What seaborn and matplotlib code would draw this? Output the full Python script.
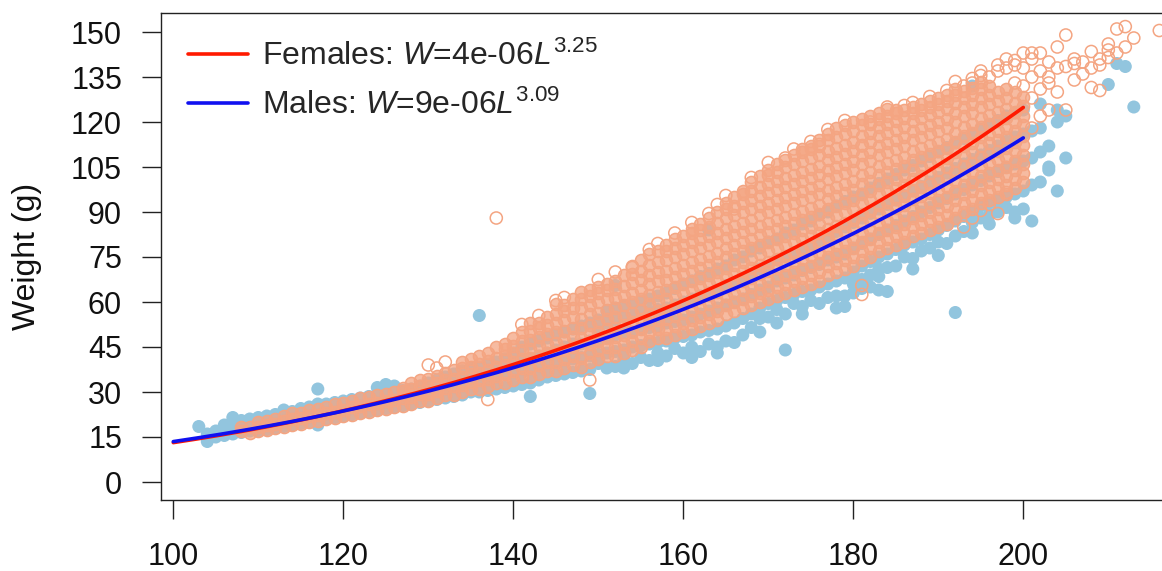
import numpy as np
import pandas as pd
import matplotlib
matplotlib.use("Agg")
import matplotlib.pyplot as plt
import seaborn as sns

# ---------------------------------------------------------------
# Length (mm) and weight (g) records, grouped by length class
# ---------------------------------------------------------------
male_len = [103, 104, 105, 106, 107, 108, 109, 110, 111, 112, 113, 114,
            115, 116, 117, 118, 119, 120, 121, 122, 123, 124, 125, 126,
            127, 128, 129, 130, 131, 132, 133, 134, 135, 136, 137, 138,
            139, 140, 141, 142, 143, 144, 145, 146, 147, 148, 149, 150,
            151, 152, 153, 154, 155, 156, 157, 158, 159, 160, 161, 162,
            163, 164, 165, 166, 167, 168, 169, 170, 171, 172, 173, 174,
            175, 176, 177, 178, 179, 180, 181, 182, 183, 184, 185, 186,
            187, 188, 189, 190, 191, 192, 193, 194, 195, 196, 197, 198,
            199, 200, 201, 202, 203, 204, 205, 210, 211, 212, 213]
male_wt = [
    [18.5], [13.5, 16], [15, 17], [15.5, 17.5, 19], [16, 18, 21.5],
    [16.5, 18.5, 20.5], [17, 19, 21], [17, 19.5, 21.5], [17.5, 20, 22],
    [18, 20.5, 22.5], [18.5, 21, 24], [19, 21.5, 23.5], [19.5, 22, 24.5],
    [20, 22.5, 25], [19, 21, 23.5, 26, 31], [21, 23.5, 26], [21.5, 24, 26.5],
    [22, 24.5, 27], [22.5, 25, 27.5], [23, 25.5, 28], [23.5, 26, 28.5],
    [24, 26.5, 29, 31.5], [24.5, 27, 29.5, 32.5], [25, 27.5, 30, 32],
    [25.5, 28, 30.5], [26, 28.5, 31], [26.5, 29, 32], [27, 30, 33],
    [27.5, 30.5, 34], [28, 31, 35], [28.5, 32, 36], [29, 33, 37],
    [30, 34, 38], [30, 34, 38, 55.5], [30.5, 34.5, 39], [31, 35, 40],
    [31.5, 36, 41], [32, 36, 40, 43], [32.5, 36.5, 41, 45],
    [28.5, 33, 37, 41, 46], [34, 38, 42, 47], [35, 39, 43, 48],
    [35.5, 39.5, 44, 49], [36, 40, 45, 50], [36.5, 41, 46, 51],
    [37, 41.5, 46, 52], [29.5, 37.5, 42, 47, 53], [39.5, 42.5, 47, 51, 54],
    [38, 43, 48, 53, 57], [38.5, 43.5, 49, 54, 58, 65.5],
    [38, 41, 44, 50, 55, 58.5], [39.5, 45, 50, 55, 59],
    [41.5, 45.5, 51, 56, 60], [40.5, 46, 51.5, 57, 61],
    [40.5, 43, 46.5, 52, 57.5, 62], [42, 47, 53, 58, 63],
    [44.5, 48, 53.5, 59, 64.5], [43, 48.5, 54, 60, 66],
    [41.5, 45, 49, 55, 61, 67], [43.5, 50, 56, 62, 68.5],
    [46, 50.5, 57, 63, 69.5, 84], [43, 45, 51, 58, 64, 71],
    [47, 52, 59, 65.5, 72], [46.5, 53, 60, 66.5, 74],
    [49, 54.5, 61, 68, 75], [51.5, 56, 62.5, 69, 77],
    [50, 54.5, 58, 64, 71, 78], [55, 59.5, 65, 72, 80],
    [53, 57.5, 60.5, 67, 74, 81], [44, 56, 61.5, 68, 75, 83],
    [59.5, 62.5, 69, 76.5, 84], [56, 58.5, 63.5, 70.5, 78, 86],
    [60.5, 64, 71.5, 79, 87], [59.5, 65, 72.5, 80.5, 89],
    [61.5, 66, 74, 82, 90], [58, 62, 67, 75, 83.5, 92],
    [58.5, 62, 68, 76, 85, 93.5], [63, 66, 70, 78, 86.5, 95],
    [64.5, 67.5, 72, 79.5, 88, 96], [65, 69, 73.5, 81, 89.5, 98],
    [64, 68.5, 71, 75, 82.5, 91, 99.5], [63.5, 71.5, 76, 84, 92.5, 101],
    [72, 77.5, 85.5, 94, 102.5], [75, 79, 87, 95.5, 104],
    [71, 74.5, 80, 88.5, 97, 105.5], [77, 81, 90, 98.5, 107],
    [78, 82.5, 91.5, 100, 108.5], [75.5, 80, 84, 93, 101.5, 110],
    [79.5, 85.5, 94.5, 103, 111.5], [56.5, 82, 87, 96, 104.5, 113],
    [83.5, 88.5, 97.5, 106, 114.5], [83, 86.5, 90, 99, 107.5, 116, 132],
    [88, 92, 100.5, 109, 117.5], [86, 89, 93, 102, 110.5, 119],
    [90, 94, 103.5, 112, 120.5], [91.5, 95, 105, 113.5, 122],
    [88, 90, 96, 106, 115, 123], [91, 97, 107, 116, 124],
    [87, 99, 108, 117], [100, 110, 118, 126],
    [105, 112, 104], [97, 124, 120], [108, 122],
    [132.5], [139.5], [138.5], [125],
]

# Females: main body of the cloud
fem_len = [108, 109, 110, 111, 112, 113, 114, 115, 116, 117, 118, 119,
           120, 121, 122, 123, 124, 125, 126, 127, 128, 129, 130, 131,
           132, 133, 134, 135, 136, 137, 138, 139, 140, 141, 142, 143,
           144, 145, 146, 147, 148, 149, 150, 151, 152, 153, 154, 155,
           156, 157, 158, 159, 160, 161, 162, 163, 164, 165, 166, 167,
           168, 169, 170, 171, 172, 173, 174, 175, 176, 177, 178, 179,
           180, 181, 182, 183, 184, 185, 186, 187, 188, 189, 190, 191,
           192, 193, 194, 195, 196, 197, 198, 199, 200]
fem_wt = [
    [17, 18.5], [16.5, 18.5], [17, 18.5, 20], [17.5, 19, 20.5],
    [18, 19.5, 21], [18.5, 20.5, 22], [19, 21, 23], [19.5, 21.5, 23],
    [20, 22, 24], [20.5, 22.5, 24.5], [21, 23, 25], [21.5, 23.5, 26],
    [22, 24, 26.5], [22.5, 25, 27], [23, 25.5, 28], [23.5, 26, 28.5],
    [24, 26.5, 29], [24.5, 27, 29.5], [25, 27.5, 30], [25.5, 28, 30.5, 31.5],
    [26, 28.5, 31, 33], [27, 29.5, 32, 34], [27, 29.5, 32, 34.5],
    [28, 30.5, 33, 35.5], [29, 31.5, 34, 36.5],
    [29, 32, 34.5, 37.5], [30, 32.5, 35, 38, 40], [31, 33.5, 36, 38.5, 41],
    [31, 34, 36.5, 39.5, 42], [32, 34.5, 37.5, 40.5, 43],
    [33, 35.5, 38.5, 41.5, 45], [33, 36, 39, 42, 44.5, 46],
    [34, 37, 40, 43, 45.5, 48], [35, 38, 41, 44, 47, 50],
    [35, 38, 41.5, 44.5, 47.5, 50.5, 53], [36, 39, 42, 45.5, 48.5, 51.5, 53],
    [37, 40, 43, 46, 49.5, 52.5, 55], [37, 40, 43.5, 46.5, 50, 53, 56, 59.5],
    [38, 41, 44, 47.5, 50.5, 54, 57, 59], [39, 42, 45, 48.5, 51.5, 55, 58, 61],
    [38.5, 41.5, 45, 48, 51.5, 54.5, 58, 61, 63.5],
    [40, 43, 46, 49.5, 52.5, 56, 59, 62, 64],
    [41, 44, 47, 50, 53.5, 56.5, 60, 63, 65],
    [42, 45, 48, 51, 54.5, 57.5, 61, 64, 66],
    [42, 45, 48.5, 51.5, 55, 58, 61.5, 64.5, 67],
    [43, 46, 49, 52.5, 55.5, 59, 62, 65.5, 69],
    [44, 47, 50, 53.5, 56.5, 60, 63, 66.5, 69.5, 72],
    [45, 48, 51, 54.5, 57.5, 61, 64, 67.5, 70.5, 74],
    [47, 50, 53, 56, 59.5, 62.5, 66, 69, 72.5, 76],
    [48, 51, 54, 57, 60.5, 63.5, 67, 70, 73.5, 77],
    [48, 51, 54.5, 57.5, 61, 64, 67.5, 70.5, 74, 77, 79],
    [49, 52, 55.5, 58.5, 62, 65, 68.5, 71.5, 75, 78, 81],
    [50, 53, 56.5, 59.5, 63, 66, 69.5, 72.5, 76, 79, 82],
    [51, 54, 57.5, 60.5, 64, 67, 70.5, 73.5, 77, 80, 83, 84.5],
    [52, 55, 58.5, 61.5, 65, 68, 71.5, 74.5, 78, 81, 84, 86],
    [53, 56, 59.5, 62.5, 66, 69, 72.5, 75.5, 79, 82, 85, 88],
    [54, 57, 60.5, 63.5, 67, 70, 73.5, 76.5, 80, 83, 86.5, 90],
    [56, 59, 62, 65, 68.5, 71.5, 75, 78, 81.5, 84.5, 88, 91, 93],
    [57, 60, 63, 66, 69.5, 72.5, 76, 79, 82.5, 85.5, 89, 92, 95],
    [58, 61, 64, 67, 70.5, 73.5, 77, 80, 83.5, 86.5, 90, 93, 96, 97],
    [59, 62, 65, 68, 71.5, 74.5, 78, 81, 84.5, 87.5, 91, 94, 97, 100],
    [60, 63, 66, 69.5, 72.5, 76, 79, 82.5, 85.5, 89, 92, 95.5, 98.5, 102],
    [61, 64, 67, 70.5, 73.5, 77, 80, 83.5, 86.5, 90, 93, 96.5, 99.5, 102.5,
     104],
    [62, 65, 68, 71.5, 74.5, 78, 81, 84.5, 87.5, 91, 94, 97.5, 100.5, 103.5,
     106],
    [63, 66, 69, 72.5, 75.5, 79, 82, 85.5, 88.5, 92, 95, 98.5, 101.5, 105,
     107.5],
    [64, 67, 70, 73.5, 76.5, 80, 83, 86.5, 89.5, 93, 96, 99.5, 102.5, 106,
     109],
    [65, 68, 71, 74.5, 77.5, 81, 84, 87.5, 90.5, 94, 97, 100.5, 103.5, 107,
     110, 111],
    [66, 69, 72, 75.5, 78.5, 82, 85, 88.5, 91.5, 95, 98, 101.5, 104.5, 108,
     111, 112],
    [67, 70, 73, 76.5, 79.5, 83, 86, 89.5, 92.5, 96, 99, 102.5, 105.5, 109,
     112, 114],
    [69, 72, 75, 78, 81.5, 84.5, 88, 91, 94.5, 97.5, 101, 104, 107.5, 110.5,
     114, 116],
    [70, 73, 76, 79, 82.5, 85.5, 89, 92, 95.5, 98.5, 102, 105, 108.5, 111.5,
     115, 118],
    [71, 74, 77, 80, 83.5, 86.5, 90, 93, 96.5, 99.5, 103, 106, 109.5, 112.5,
     116, 119],
    [72, 75, 78, 81, 84.5, 87.5, 91, 94, 97.5, 100.5, 104, 107, 110.5, 113.5,
     117, 120],
    [74, 77, 80, 83, 86.5, 89.5, 93, 96, 99.5, 102.5, 106, 109,
     112.5, 115.5, 119, 121],
    [75, 78, 81, 84, 87.5, 90.5, 94, 97, 100.5, 103.5, 107, 110, 113.5,
     116.5, 119.5, 122],
    [77, 80, 83, 86, 89.5, 92.5, 96, 99, 102.5, 105.5, 109, 112, 115.5,
     118.5, 121, 123],
    [78, 81, 84, 87, 90.5, 93.5, 97, 100, 103.5, 106.5, 110, 113, 116.5,
     119.5, 122, 124.5],
    [79, 82, 85, 88, 91.5, 94.5, 98, 101, 104.5, 107.5, 111, 114, 117.5,
     120.5, 123, 124],
    [80, 83, 86, 89, 92.5, 95.5, 99, 102, 105.5, 108.5, 112, 115, 118.5,
     121.5, 124],
    [82, 85, 88, 91, 94.5, 97.5, 101, 104, 107.5, 110.5, 114, 117, 120.5,
     123, 125],
    [83, 86, 89, 92, 95.5, 98.5, 102, 105, 108.5, 111.5, 115, 118, 121.5,
     124, 126],
    [84, 87, 90, 93, 96.5, 99.5, 103, 106, 109.5, 112.5, 116, 119, 122.5,
     125, 127],
    [85, 88, 91, 94, 97.5, 100.5, 104, 107, 110.5, 113.5, 117, 120, 123.5,
     126, 128],
    [86, 89, 92, 95, 98.5, 101.5, 105, 108, 111.5, 114.5, 118, 121, 124.5,
     127, 129],
    [88, 91, 94, 97, 100.5, 103.5, 107, 110, 113.5, 116.5, 120, 123, 126.5,
     129, 131],
    [90, 93, 96, 99, 102.5, 105.5, 109, 112, 115.5, 118.5, 122, 125,
     128, 130.5],
    [91, 94, 97, 100, 103.5, 106.5, 110, 113, 116.5, 119.5, 123, 126, 129,
     131.5],
    [93, 96, 99, 102, 105.5, 108.5, 112, 115, 118.5, 121.5, 125, 128, 131,
     133.5],
    [94, 97, 100, 103, 106.5, 109.5, 113, 116, 119.5, 122.5, 126, 129, 132],
    [95, 98, 101, 104, 107.5, 110.5, 114, 117, 120.5, 123.5, 127, 130],
    [96, 99, 102, 105, 108.5, 111.5, 115, 118, 121.5, 124.5, 128, 131],
    [98, 101, 104, 107, 110.5, 113.5, 117, 120, 123.5, 126.5, 130],
    [100, 103, 106, 109, 112.5, 115.5, 119, 122, 125.5, 128.5],
]

# Females: scattered individuals away from the main body
fem_out_len = [130, 131, 132, 137, 138, 149, 166, 181, 181, 192, 193, 193,
               194, 195, 196, 197, 197, 198, 198, 199, 199, 200, 200, 200,
               201, 201, 201, 201, 201, 202, 202, 202, 202, 203, 203, 203,
               203, 204, 204, 204, 205, 205, 205, 206, 206, 206, 207, 207,
               208, 208, 208, 209, 209, 209, 210, 210, 210, 211, 211, 212,
               212, 213, 216,
               141, 143, 145, 146, 150, 152, 154, 156, 157, 159, 161, 163,
               164, 165, 168, 170, 172, 173, 175, 176, 177, 179, 181, 182,
               184, 186, 187, 189, 191, 194, 195, 197, 199, 194, 195, 196,
               198]
fem_out_wt = [39, 38, 40, 27.5, 88, 34, 91, 62.5, 65.5, 133.5, 85, 132,
              133, 135.5, 135, 89.5, 137, 138, 141, 133, 139, 132, 138,
              143, 118, 128, 135, 141, 143, 122, 131, 137, 143, 124, 133,
              135, 140, 130, 138, 145, 124, 138.5, 149, 134, 139.5, 141,
              136, 140, 131.5, 143.5, 138, 130.5, 141, 139, 144, 146,
              141.5, 151, 143, 151.8, 145, 148, 150.5,
              52.5, 55.5, 60.5, 61.5, 67.5, 70, 71.5, 77.5, 79.5, 83,
              86.5, 89.5, 92.5, 95.5, 101.5, 106.5, 108, 111, 113.5, 112.5,
              117.5, 120.5, 112, 120, 125, 125.5, 126.5, 128.5, 130.5,
              134.5, 137, 139, 140.5, 88, 90.5, 92.5, 96.5]

# Fitted length-weight relations, W = a * L^b
fem_a, fem_b = 4.15e-06, 3.25
male_a, male_b = 8.9e-06, 3.09
fit_start, fit_end = 100, 200

x_ticks = [100, 120, 140, 160, 180, 200]
y_ticks = [0, 15, 30, 45, 60, 75, 90, 105, 120, 135, 150]

male_color = "#92C5DE"
fem_color = "#F4A582"
fem_fill = (0.957, 0.647, 0.510, 0.75)


def long_form(lengths, weights):
    assert len(lengths) == len(weights)
    rows = [(L, w) for L, ws in zip(lengths, weights) for w in ws]
    return pd.DataFrame(rows, columns=["length", "weight"])


males = long_form(male_len, male_wt)
females = long_form(fem_len, fem_wt)
assert len(fem_out_len) == len(fem_out_wt)
fem_out = pd.DataFrame({"length": fem_out_len, "weight": fem_out_wt})

sns.set_style("white")
plt.rcParams["font.family"] = ["Liberation Sans", "DejaVu Sans"]
plt.rcParams["mathtext.fontset"] = "custom"
plt.rcParams["mathtext.rm"] = "Liberation Sans"
plt.rcParams["mathtext.it"] = "Liberation Sans:italic"

W, H = 1162, 571
fig = plt.figure(figsize=(W / 100, H / 100), dpi=100)
left_px, right_px, top_px, bottom_px = 161, 1200, 13, 500
ax = fig.add_axes([left_px / W, (H - bottom_px) / H,
                   (right_px - left_px) / W, (bottom_px - top_px) / H])

sns.scatterplot(data=males, x="length", y="weight", ax=ax,
                color=male_color, s=88, linewidth=0, edgecolor="none",
                zorder=2)
# dense body: overlapping open circles read as a solid band
sns.scatterplot(data=females, x="length", y="weight", ax=ax,
                marker="o", s=76, facecolors=[fem_fill], edgecolor=fem_color,
                linewidth=1.1, zorder=3)
sns.scatterplot(data=fem_out, x="length", y="weight", ax=ax,
                marker="o", s=76, facecolors="none", edgecolor=fem_color,
                linewidth=1.1, zorder=3)

grid = np.linspace(fit_start, fit_end, 300)
fem_label = f"Females: $W$={fem_a:.0e}$L^{{{fem_b}}}$"
male_label = f"Males: $W$={male_a:.0e}$L^{{{male_b}}}$"
sns.lineplot(x=grid, y=fem_a * grid ** fem_b, ax=ax, color="#FF1A00",
             linewidth=2.6, label=fem_label, zorder=4)
sns.lineplot(x=grid, y=male_a * grid ** male_b, ax=ax, color="#1010F0",
             linewidth=2.6, label=male_label, zorder=5)

x_px0 = 173.3
ax.set_xlim(100 - (x_px0 - left_px) / 8.5, 100 + (right_px - x_px0) / 8.5)
ax.set_ylim(-6, (482 - top_px) / 3)
ax.set_xticks(x_ticks)
ax.set_yticks(y_ticks)
ax.tick_params(axis="both", direction="out", length=14, width=1.0,
               color="#222222", labelsize=22, labelcolor="#111111",
               bottom=True, left=True)
ax.tick_params(axis="y", pad=14)
ax.tick_params(axis="x", pad=16)
for side in ["left", "bottom", "top", "right"]:
    ax.spines[side].set_color("#222222")
    ax.spines[side].set_linewidth(1.0)

ax.set_xlabel("")
ax.set_ylabel("Weight (g)", fontsize=23, color="#111111", va="center")
ax.yaxis.set_label_coords((27 - left_px) / (right_px - left_px), 0.5)

handles, labels = ax.get_legend_handles_labels()
ax.legend(handles, labels, loc="upper left", frameon=False, fontsize=23,
          bbox_to_anchor=((188 - left_px) / (right_px - left_px), 0.9425),
          borderaxespad=0, borderpad=0, handlelength=1.875,
          handletextpad=0.44, labelspacing=0.55)

fig.savefig("out.png", dpi=100)
